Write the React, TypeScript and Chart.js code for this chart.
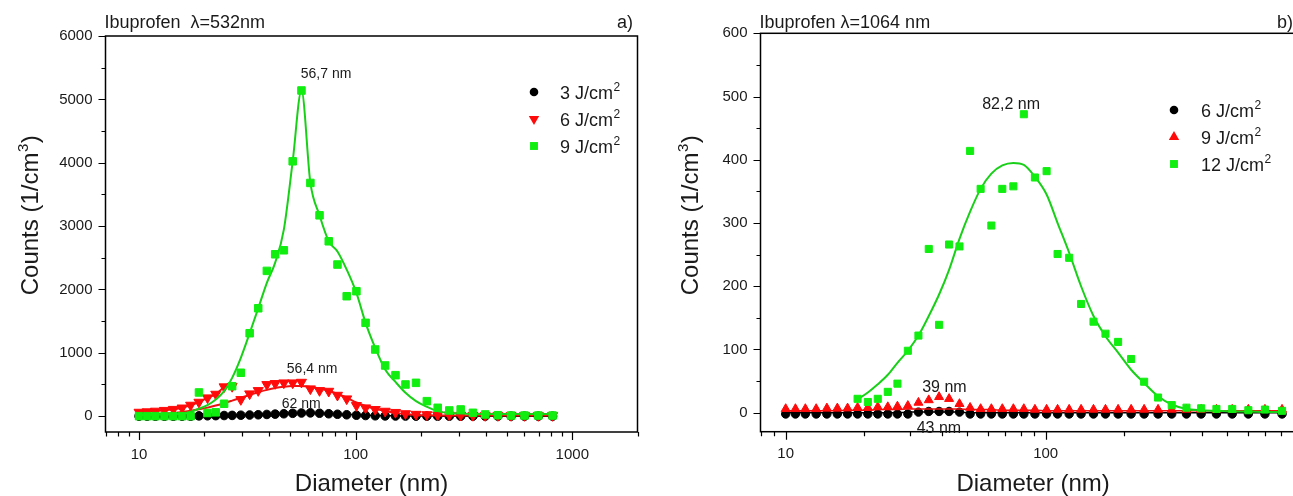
import React, { useEffect, useRef } from "react";
import { Chart, registerables } from "chart.js";

Chart.register(...registerables);

const FONT = '"Liberation Sans", Arial, Helvetica, sans-serif';
const TEXT = "#1a1a1a";

// Particle diameter channels (nm), shared by both panels
const DIAMETERS = [10, 10.9, 11.9, 13.1, 14.4, 15.8, 17.3, 18.9, 20.7, 22.6, 24.7, 26.9, 29.5, 32.4, 35.5, 38.9, 42.5, 46.6, 51.2, 56.2, 61.8, 68.1, 75.1, 82.4, 90.9, 100.8, 111.1, 123.1, 136.8, 152.7, 169.8, 189.9, 213.1, 239.1, 270.5, 305.3, 347.9, 396.2, 453.6, 521.7, 601.8, 697, 811];

// Panel a) λ = 532 nm
const A_3J = [0, 0, 0, 0, 0, 0, 0, 5, 6, 8, 10, 12, 15, 18, 22, 27, 32, 38, 45, 50, 52, 46, 38, 30, 22, 15, 10, 6, 4, 3, 2, 1, 1, 0, 0, 0, 0, 0, 0, 0, 0, 0, 0];
const A_3J_FIT = [2, 2, 3, 3, 4, 5, 6, 7, 9, 11, 13, 16, 19, 23, 27, 32, 37, 42, 46, 49, 49, 46, 41, 35, 28, 22, 16, 11, 7, 5, 3, 2, 1, 1, 0, 0, 0, 0, 0, 0, 0, 0, 0];
const A_6J = [63, 70, 80, 92, 108, 130, 174, 221, 290, 347, 464, 470, 263, 353, 405, 500, 516, 526, 526, 536, 432, 405, 394, 331, 274, 169, 132, 106, 79, 60, 40, 30, 25, 20, 18, 15, 12, 10, 10, 10, 10, 10, 10];
const A_6J_LOW = [63, 70, 80, 92, 108, 130, 174, 221, 290, 347, 464, null, null, null, null, null, null, null, null, null, null, null, null, null, null, null, null, null, null, null, null, null, null, null, null, null, null, null, null, null, null, null, null];
const A_6J_FIT = [15, 20, 28, 38, 50, 65, 85, 108, 135, 168, 205, 245, 290, 335, 378, 415, 445, 465, 475, 475, 462, 438, 400, 350, 292, 215, 160, 115, 80, 52, 31, 20, 15, 12, 10, 10, 10, 10, 10, 10, 10, 10, 10];
const A_9J = [0, 0, 0, 0, 0, 0, 0, 374, 50, 60, 196, 473, 685, 1309, 1703, 2293, 2555, 2618, 4022, 5140, 3681, 3170, 2760, 2393, 1893, 1972, 1473, 1052, 800, 647, 500, 526, 237, 132, 90, 106, 53, 27, 15, 10, 10, 10, 10];
const A_9J_FIT = [20, 20, 22, 25, 30, 42, 70, 117, 174, 263, 394, 605, 921, 1309, 1703, 2104, 2424, 2944, 4022, 5140, 3681, 3170, 2760, 2600, 2314, 1946, 1473, 1079, 737, 540, 369, 237, 148, 79, 50, 40, 35, 35, 35, 35, 35, 35, 35];

// Panel b) λ = 1064 nm
const B_6J = [-2, -2, -2, -2, -2, -2, -2, -2, -2, -2, -2, -2, -2, 1, 2, 2, 2, 1, -2, -2, -2, -2, -2, -2, -2, -2, -2, -2, -2, -2, -2, -2, -2, -2, -2, -2, -2, -2, -2, -2, -2, -2, -2];
const B_6J_FIT = [0, 0, 0, 0, 0, 0, 0, 0, 0, 0, 0, 0, 1, 1, 1, 1, 1, 1, 0, 0, 0, 0, 0, 0, 0, 0, 0, 0, 0, 0, 0, 0, 0, 0, 0, 0, 0, 0, 0, 0, 0, 0, 0];
const B_9J = [6, 6, 6, 6, 7, 7, 7, 8, 8, 9, 9, 10, 11, 16, 20, 25, 22, 14, 8, 6, 6, 6, 6, 6, 5, 5, 5, 5, 5, 5, 5, 5, 5, 5, 5, 5, 5, 5, 5, 5, 5, 5, 5];
const B_9J_FIT = [3, 3, 3, 3, 3, 3, 4, 4, 4, 5, 5, 5, 6, 6, 6, 6, 6, 6, 5, 5, 5, 4, 4, 4, 4, 3, 3, 3, 3, 3, 3, 3, 3, 3, 3, 3, 3, 3, 3, 3, 3, 3, 3];
const B_12J = [null, null, null, null, null, null, null, 22, 17, 22, 33, 46, 98, 122, 259, 139, 266, 263, 414, 354, 296, 354, 358, 472, 372, 382, 251, 245, 172, 144, 125, 112, 85, 49, 24, 12, 8, 7, 6, 6, 4, 5, 3];
const B_12J_FIT = [null, null, null, null, null, null, null, 21, 32, 45, 60, 79, 98, 122, 153, 187, 226, 275, 318, 354, 378, 391, 395, 392, 373, 345, 300, 253, 200, 153, 121, 95, 68, 47, 26, 13, 6, 4, 3, 2, 2, 1, 1];

// Axis ticks
const A_Y_MAJOR = [0, 1000, 2000, 3000, 4000, 5000, 6000];
const A_Y_MINOR = [500, 1500, 2500, 3500, 4500, 5500];
const B_Y_MAJOR = [0, 100, 200, 300, 400, 500, 600];
const B_Y_MINOR = [50, 150, 250, 350, 450, 550];
const X_MAJOR = [10, 100, 1000];
const A_X_LABELS = ["10", "100", "1000"];
const B_X_LABELS = ["10", "100", ""];
const X_MINOR = [7, 8, 9, 20, 30, 40, 50, 60, 70, 80, 90, 200, 300, 400, 500, 600, 700, 800, 900, 2000];

type Legend = { label: string; style: string; color: string; size: number; rot?: number };
type Note = { text: string; x: number; y: number; size: number };

type PanelCfg = {
  title: string;
  letter: string;
  xMin: number; xMax: number; yMin: number; yMax: number;
  yMajor: number[]; yMinor: number[]; xLabels: string[];
  padding: { left: number; right: number; top: number; bottom: number };
  legendX: number; legendTextX: number; legendY: number[];
  legend: Legend[];
  notes: Note[];
  datasets: any[];
  canvasWidth: number;
};

function pts(arr: (number | null)[]) {
  const out: { x: number; y: number }[] = [];
  arr.forEach((v, i) => {
    if (v !== null && v !== undefined) out.push({ x: DIAMETERS[i], y: v });
  });
  return out;
}

function scatterDs(arr: (number | null)[], color: string, style: string, r: number, order: number, rot = 0) {
  return {
    type: "scatter",
    data: pts(arr),
    showLine: false,
    pointStyle: style,
    pointRadius: r,
    pointRotation: rot,
    pointBackgroundColor: color,
    pointBorderColor: color,
    pointBorderWidth: 1,
    order,
  };
}

function lineDs(arr: (number | null)[], color: string, order: number, width = 2) {
  return {
    type: "line",
    data: pts(arr),
    showLine: true,
    borderColor: color,
    borderWidth: width,
    pointRadius: 0,
    fill: false,
    cubicInterpolationMode: "monotone",
    order,
  };
}

function drawSup(ctx: CanvasRenderingContext2D, x: number, y: number, base: string, sup: string, tail: string, size: number) {
  ctx.font = `${size}px ${FONT}`;
  ctx.fillText(base, x, y);
  let w = ctx.measureText(base).width;
  const s = Math.round(size * 0.64);
  ctx.font = `${s}px ${FONT}`;
  ctx.fillText(sup, x + w + 0.5, y - size * 0.4);
  w += ctx.measureText(sup).width + 1;
  ctx.font = `${size}px ${FONT}`;
  if (tail) ctx.fillText(tail, x + w, y);
}

function supWidth(ctx: CanvasRenderingContext2D, base: string, sup: string, tail: string, size: number) {
  ctx.font = `${size}px ${FONT}`;
  let w = ctx.measureText(base).width + ctx.measureText(tail).width;
  ctx.font = `${Math.round(size * 0.64)}px ${FONT}`;
  w += ctx.measureText(sup).width + 1.5;
  return w;
}

function drawMarker(ctx: CanvasRenderingContext2D, m: Legend, x: number, y: number) {
  ctx.fillStyle = m.color;
  ctx.beginPath();
  if (m.style === "circle") {
    ctx.arc(x, y, m.size, 0, Math.PI * 2);
  } else if (m.style === "rect") {
    const s = m.size * Math.SQRT1_2;
    ctx.rect(x - s, y - s, 2 * s, 2 * s);
  } else {
    const r = m.size;
    const dir = m.rot === 180 ? -1 : 1;
    const h = r * 1.5;
    const half = r * Math.sqrt(3) / 2;
    ctx.moveTo(x, y - dir * r);
    ctx.lineTo(x - half, y + dir * (h - r));
    ctx.lineTo(x + half, y + dir * (h - r));
    ctx.closePath();
  }
  ctx.fill();
}

function decor(p: PanelCfg) {
  return {
    id: "decor",
    afterDatasetsDraw(chart: any) {
      const ctx: CanvasRenderingContext2D = chart.ctx;
      const a = chart.chartArea;
      const xs = chart.scales.x;
      const ys = chart.scales.y;
      ctx.save();
      // frame
      ctx.strokeStyle = "#000";
      ctx.lineWidth = 1.5;
      ctx.strokeRect(a.left, a.top, a.right - a.left, a.bottom - a.top);
      // y ticks
      ctx.lineWidth = 1.2;
      ctx.beginPath();
      p.yMajor.forEach((v) => {
        const y = Math.round(ys.getPixelForValue(v)) + 0.5;
        ctx.moveTo(a.left, y); ctx.lineTo(a.left - 7, y);
      });
      p.yMinor.forEach((v) => {
        const y = Math.round(ys.getPixelForValue(v)) + 0.5;
        ctx.moveTo(a.left, y); ctx.lineTo(a.left - 4, y);
      });
      X_MAJOR.forEach((v) => {
        if (v < p.xMin || v > p.xMax) return;
        const x = Math.round(xs.getPixelForValue(v)) + 0.5;
        ctx.moveTo(x, a.bottom); ctx.lineTo(x, a.bottom + 8);
      });
      X_MINOR.forEach((v) => {
        if (v < p.xMin || v > p.xMax) return;
        const x = Math.round(xs.getPixelForValue(v)) + 0.5;
        ctx.moveTo(x, a.bottom); ctx.lineTo(x, a.bottom + 4.5);
      });
      ctx.stroke();
      // tick labels
      ctx.fillStyle = TEXT;
      ctx.font = `15px ${FONT}`;
      ctx.textAlign = "right";
      ctx.textBaseline = "middle";
      p.yMajor.forEach((v) => {
        ctx.fillText(String(v), a.left - 13, ys.getPixelForValue(v));
      });
      ctx.textAlign = "center";
      ctx.textBaseline = "alphabetic";
      X_MAJOR.forEach((v, i) => {
        if (v < p.xMin || v > p.xMax || !p.xLabels[i]) return;
        ctx.fillText(p.xLabels[i], xs.getPixelForValue(v), a.bottom + 26.5);
      });
      // axis titles
      ctx.font = `24px ${FONT}`;
      ctx.fillText("Diameter (nm)", (a.left + a.right) / 2, 491);
      ctx.save();
      ctx.translate(38, 215);
      ctx.rotate(-Math.PI / 2);
      ctx.textAlign = "left";
      const tw = supWidth(ctx, "Counts (1/cm", "3", ")", 24);
      drawSup(ctx, -tw / 2, 0, "Counts (1/cm", "3", ")", 24);
      ctx.restore();
      // panel title and letter
      ctx.textAlign = "left";
      ctx.font = `18px ${FONT}`;
      ctx.fillText(p.title, a.left - 1, 28);
      ctx.textAlign = "right";
      ctx.fillText(p.letter, 633, 28);
      // legend
      ctx.textAlign = "left";
      p.legend.forEach((m, i) => {
        const y = p.legendY[i];
        drawMarker(ctx, m, p.legendX, y);
        ctx.fillStyle = TEXT;
        drawSup(ctx, p.legendTextX, y + 6.5, m.label, "2", "", 18);
      });
      // peak annotations
      ctx.fillStyle = TEXT;
      p.notes.forEach((n) => {
        ctx.font = `${n.size}px ${FONT}`;
        ctx.fillText(n.text, xs.getPixelForValue(n.x), ys.getPixelForValue(n.y));
      });
      ctx.restore();
    },
  };
}

const GREEN = "#10ee10";
const GREEN_LINE = "#19d019";
const RED = "#ff0a0a";
const RED_LINE = "#ee1111";
const BLACK = "#000000";

const PANEL_A: PanelCfg = {
  title: "Ibuprofen  \u03bb=532nm",
  letter: "a)",
  xMin: 7, xMax: 2000, yMin: -250, yMax: 6000,
  yMajor: A_Y_MAJOR, yMinor: A_Y_MINOR, xLabels: A_X_LABELS,
  padding: { left: 105.5, right: 22.5, top: 36, bottom: 64 },
  legendX: 534, legendTextX: 560, legendY: [92, 119, 146],
  legend: [
    { label: "3 J/cm", style: "circle", color: BLACK, size: 4.3 },
    { label: "6 J/cm", style: "triangle", color: RED, size: 6, rot: 180 },
    { label: "9 J/cm", style: "rect", color: GREEN, size: 5.6 },
  ],
  notes: [
    { text: "56,7 nm", x: 55.8, y: 5338, size: 14 },
    { text: "56,4 nm", x: 48.1, y: 682, size: 14 },
    { text: "62 nm", x: 45.6, y: 129, size: 14 },
  ],
  canvasWidth: 660,
  datasets: [
    lineDs(A_3J_FIT, BLACK, 10, 1.5),
    scatterDs(A_3J, BLACK, "circle", 4.3, 9),
    lineDs(A_6J_FIT, RED_LINE, 8),
    lineDs(A_6J_LOW, RED_LINE, 8),
    scatterDs(A_6J, RED, "triangle", 5.8, 7, 180),
    lineDs(A_9J_FIT, GREEN_LINE, 6),
    scatterDs(A_9J, GREEN, "rect", 5.3, 5),
  ],
};

const PANEL_B: PanelCfg = {
  title: "Ibuprofen \u03bb=1064 nm",
  letter: "b)",
  xMin: 8, xMax: 1000, yMin: -30, yMax: 600,
  yMajor: B_Y_MAJOR, yMinor: B_Y_MINOR, xLabels: B_X_LABELS,
  padding: { left: 100.5, right: 14.3, top: 33.3, bottom: 64.3 },
  legendX: 514, legendTextX: 541, legendY: [110, 137, 164],
  legend: [
    { label: "6 J/cm", style: "circle", color: BLACK, size: 4.3 },
    { label: "9 J/cm", style: "triangle", color: RED, size: 6 },
    { label: "12 J/cm", style: "rect", color: GREEN, size: 5.6 },
  ],
  notes: [
    { text: "82,2 nm", x: 57.0, y: 480, size: 16 },
    { text: "39 nm", x: 33.5, y: 32.7, size: 16 },
    { text: "43 nm", x: 31.9, y: -32, size: 16 },
  ],
  canvasWidth: 660,
  datasets: [
    lineDs(B_6J_FIT, BLACK, 10, 1.5),
    scatterDs(B_6J, BLACK, "circle", 4.2, 9),
    lineDs(B_9J_FIT, RED_LINE, 8, 1.5),
    scatterDs(B_9J, RED, "triangle", 5.2, 7),
    lineDs(B_12J_FIT, GREEN_LINE, 6),
    scatterDs(B_12J, GREEN, "rect", 5, 5),
  ],
};

function Panel({ cfg, left }: { cfg: PanelCfg; left: number }) {
  const ref = useRef<HTMLCanvasElement | null>(null);
  useEffect(() => {
    if (!ref.current) return;
    const chart = new Chart(ref.current, {
      type: "scatter",
      data: { datasets: cfg.datasets },
      options: {
        responsive: false,
        animation: false,
        devicePixelRatio: 1,
        layout: { padding: cfg.padding },
        scales: {
          x: { type: "logarithmic", min: cfg.xMin, max: cfg.xMax, display: false },
          y: { type: "linear", min: cfg.yMin, max: cfg.yMax, display: false },
        },
        plugins: { legend: { display: false }, tooltip: { enabled: false } },
        events: [],
      } as any,
      plugins: [decor(cfg)],
    } as any);
    return () => chart.destroy();
  }, [cfg]);
  return (
    <canvas
      ref={ref}
      width={cfg.canvasWidth}
      height={496}
      style={{ position: "absolute", left, top: 0, width: cfg.canvasWidth, height: 496 }}
    />
  );
}

export default function App() {
  return (
    <div
      style={{
        position: "fixed",
        left: 0,
        top: 0,
        width: 1293,
        height: 496,
        overflow: "hidden",
        background: "#ffffff",
      }}
    >
      <Panel cfg={PANEL_A} left={0} />
      <Panel cfg={PANEL_B} left={660} />
    </div>
  );
}
